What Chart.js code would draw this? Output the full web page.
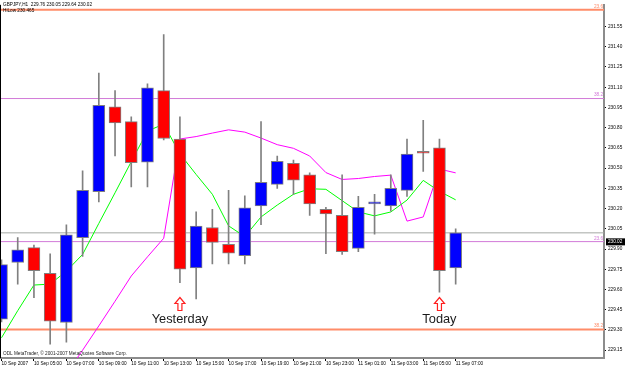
<!DOCTYPE html>
<html><head><meta charset="utf-8">
<script src="https://cdn.jsdelivr.net/npm/chart.js@4"></script>
<style>html,body{margin:0;padding:0;background:#fff;overflow:hidden}canvas{display:block}</style>
</head><body>
<canvas id="c" width="625" height="367"></canvas>
<script>
// ---------- data ----------
const symbol = 'GBPJPY,H1';
const times = ['10 Sep 03:00','10 Sep 04:00','10 Sep 05:00','10 Sep 06:00','10 Sep 07:00','10 Sep 08:00','10 Sep 09:00','10 Sep 10:00',
  '10 Sep 11:00','10 Sep 12:00','10 Sep 13:00','10 Sep 14:00','10 Sep 15:00','10 Sep 16:00','10 Sep 17:00','10 Sep 18:00',
  '10 Sep 19:00','10 Sep 20:00','10 Sep 21:00','10 Sep 22:00','10 Sep 23:00','11 Sep 00:00','11 Sep 01:00','11 Sep 02:00',
  '11 Sep 03:00','11 Sep 04:00','11 Sep 05:00','11 Sep 06:00','11 Sep 07:00'];
const open  = [229.38,229.80,229.91,229.72,229.355,229.985,230.325,230.955,230.845,230.545,231.075,230.715,229.76,230.06,229.935,229.85,230.22,230.38,230.535,230.45,230.195,230.15,229.905,230.235,230.22,230.335,230.625,230.65,229.76];
const high  = [229.82,229.985,229.93,229.865,230.08,230.48,231.205,231.075,230.88,231.125,231.49,230.88,230.175,230.195,230.335,230.295,230.845,230.59,230.56,230.465,230.21,230.45,230.29,230.305,230.45,230.715,230.855,230.715,230.05];
const low   = [229.36,229.64,229.54,229.195,229.21,229.845,230.25,230.59,230.36,230.36,230.71,229.65,229.53,229.79,229.79,229.79,230.08,230.35,230.305,230.15,229.865,229.86,229.88,230.01,230.18,230.29,230.475,229.58,229.64];
const close = [229.785,229.895,229.74,229.365,230.005,230.335,230.965,230.835,230.54,231.095,230.72,229.75,230.07,229.95,229.87,230.205,230.395,230.55,230.41,230.235,230.16,229.88,230.21,230.245,230.35,230.605,230.61,229.74,230.02];
const maGreen = [229.242,229.443,229.633,229.64,229.736,229.86,230.09,230.317,230.548,230.775,230.826,230.606,230.453,230.306,230.072,229.992,230.138,230.226,230.306,230.347,230.343,230.259,230.175,230.146,230.175,230.263,230.409,230.328,230.265];
const hiLow = [null,null,null,null,228.975,229.15,229.33,229.513,229.70,229.842,229.98,230.716,230.734,230.76,230.784,230.767,230.723,230.674,230.647,230.59,230.467,230.416,230.423,230.438,230.448,230.107,230.138,230.493,230.465];
const priceTicks = [231.55,231.40,231.25,231.10,230.95,230.80,230.65,230.50,230.35,230.20,230.05,229.90,229.75,229.60,229.45,229.30,229.15];
const timeTickIndex = [0,2,4,6,8,10,12,14,16,18,20,22,24,26,28];
const timeTickLabels = ['10 Sep 2007','10 Sep 05:00','10 Sep 07:00','10 Sep 09:00','10 Sep 11:00','10 Sep 13:00','10 Sep 15:00',
  '10 Sep 17:00','10 Sep 19:00','10 Sep 21:00','10 Sep 23:00','11 Sep 01:00','11 Sep 03:00','11 Sep 05:00','11 Sep 07:00'];
const levelPrices = [231.674, 231.016, 229.955, 229.304];
const levelNames  = ['23.6','38.2','23.6','38.2'];
const notes = [{index: 11, text: 'Yesterday'}, {index: 27, text: 'Today'}];
const copyright = 'ODL MetaTrader, \u00A9 2001-2007 MetaQuotes Software Corp.';

// ---------- view / style ----------
const xMin = -0.0925, xMax = 37.145;
const yMin = 229.092, yMax = 231.711;
const levelColors = ['#FF8C69','#D27AD8','#D27AD8','#FF8C69'];
const levelWidths = [2,1,1,2];
const tiny = '"Liberation Sans", Arial, sans-serif';

const idx = times.map((_, i) => i);
const bodies = idx.map(i => ({x: i, y: [open[i], close[i]]}));
const wicks  = idx.map(i => ({x: i, y: [low[i], high[i]]}));
const bodyColors = idx.map(i => close[i] >= open[i] ? '#0000FF' : '#FF0000');

const levelSets = levelPrices.map((p, k) => ({
  type: 'line', order: 5, data: [{x: xMin, y: p}, {x: xMax, y: p}],
  borderColor: levelColors[k], borderWidth: levelWidths[k], pointRadius: 0
}));
const bidSet = {type: 'line', order: 5, data: [{x: xMin, y: close[close.length-1]}, {x: xMax, y: close[close.length-1]}],
  borderColor: '#A4A9A4', borderWidth: 1, pointRadius: 0};

const overlay = {
  id: 'overlay',
  afterDraw(chart) {
    const ctx = chart.ctx, xs = chart.scales.x, ys = chart.scales.y, ca = chart.chartArea;
    const n = close.length - 1;
    ctx.save();
    // header
    ctx.font = '4.7px ' + tiny; ctx.textBaseline = 'middle'; ctx.textAlign = 'left';
    const t1 = symbol + '  ' + [open[n], high[n], low[n], close[n]].map(v => v.toFixed(2)).join(' ');
    const w1 = ctx.measureText(t1).width;
    ctx.fillStyle = '#fff'; ctx.fillRect(2, 2, w1 + 2, 6);
    ctx.fillStyle = '#000'; ctx.fillText(t1, 3, 5);
    ctx.fillText('HiLow ' + hiLow[n].toFixed(3), 3, 11);
    // copyright
    ctx.fillStyle = '#222'; ctx.fillText(copyright, 3, 354);
    // level labels
    ctx.textAlign = 'right'; ctx.textBaseline = 'bottom';
    levelPrices.forEach((p, k) => {
      const y = ys.getPixelForValue(p);
      ctx.fillStyle = levelColors[k];
      ctx.fillText(levelNames[k], ca.right - 1, Math.max(y - 1, 5));
    });
    // price box
    const yb = ys.getPixelForValue(close[n]) + 9;
    ctx.fillStyle = '#000'; ctx.fillRect(ca.right + 2, yb - 3.5, 19, 7);
    ctx.fillStyle = '#fff'; ctx.textAlign = 'left'; ctx.textBaseline = 'middle';
    ctx.fillText(close[n].toFixed(2), ca.right + 4, yb);
    // notes
    notes.forEach(nt => {
      const cx = xs.getPixelForValue(nt.index);
      ctx.beginPath();
      ctx.moveTo(cx, 297.5);
      ctx.lineTo(cx + 5, 303.5); ctx.lineTo(cx + 2, 303.5); ctx.lineTo(cx + 2, 310.5);
      ctx.lineTo(cx - 2, 310.5); ctx.lineTo(cx - 2, 303.5); ctx.lineTo(cx - 5, 303.5);
      ctx.closePath();
      ctx.fillStyle = '#fff'; ctx.fill();
      ctx.strokeStyle = '#FF2020'; ctx.lineWidth = 1.2; ctx.stroke();
      ctx.font = '12.8px ' + tiny; ctx.fillStyle = '#1a1a1a';
      ctx.textAlign = 'center'; ctx.textBaseline = 'alphabetic';
      ctx.fillText(nt.text, cx, 323);
    });
    // left border
    ctx.strokeStyle = '#000'; ctx.lineWidth = 1;
    ctx.beginPath(); ctx.moveTo(0.5, ca.top); ctx.lineTo(0.5, ca.bottom); ctx.stroke();
    ctx.restore();
  }
};

new Chart(document.getElementById('c'), {
  type: 'bar',
  data: {
    datasets: [
      {type: 'bar', order: 0, data: bodies, backgroundColor: bodyColors, borderColor: '#808080', borderWidth: 1,
        borderSkipped: false, barThickness: 12, grouped: false, minBarLength: 2},
      {type: 'bar', order: 1, data: wicks, backgroundColor: '#808080', borderWidth: 0, barThickness: 1, grouped: false},
      {type: 'line', order: 2, data: idx.map(i => ({x: i, y: maGreen[i]})), borderColor: '#00FF00', borderWidth: 1, pointRadius: 0, tension: 0},
      {type: 'line', order: 3, data: idx.map(i => ({x: i, y: hiLow[i]})), borderColor: '#FF00FF', borderWidth: 1, pointRadius: 0, tension: 0},
      bidSet,
      ...levelSets
    ]
  },
  options: {
    responsive: false, animation: false, devicePixelRatio: 1,
    layout: {padding: 0},
    plugins: {legend: {display: false}, tooltip: {enabled: false}},
    scales: {
      x: {
        type: 'linear', min: xMin, max: xMax, offset: false,
        afterBuildTicks: s => { s.ticks = timeTickIndex.map(v => ({value: v})); },
        afterFit: s => { s.height = 9; },
        ticks: {autoSkip: false, maxRotation: 0, minRotation: 0, align: 'start', padding: 0,
          font: {family: tiny, size: 4.7}, color: '#000',
          callback: v => timeTickLabels[timeTickIndex.indexOf(v)]},
        grid: {drawOnChartArea: false, drawTicks: true, tickLength: 3, color: '#000', offset: false},
        border: {display: true, color: '#8c8c8c', width: 2}
      },
      y: {
        type: 'linear', position: 'right', min: yMin, max: yMax,
        afterBuildTicks: s => { s.ticks = priceTicks.map(v => ({value: v})); },
        afterFit: s => { s.width = 21; },
        ticks: {padding: 2, font: {family: tiny, size: 4.7}, color: '#000', callback: v => v.toFixed(2)},
        grid: {drawOnChartArea: false, drawTicks: true, tickLength: 2, color: '#000'},
        border: {display: true, color: '#8c8c8c', width: 2}
      }
    }
  },
  plugins: [overlay]
});
</script>
</body></html>
